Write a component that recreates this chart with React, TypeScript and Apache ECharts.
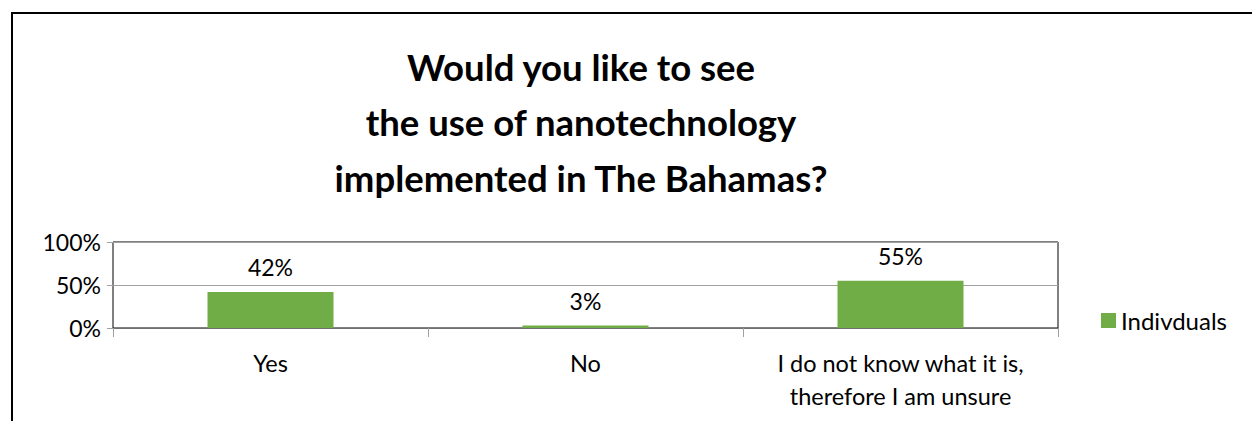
import React, { useEffect, useRef } from "react";
import * as echarts from "echarts";

const categories = ["Yes", "No", "I do not know what it is,\ntherefore I am unsure"];
const seriesName = "Indivduals";
const values = [42, 3, 55];
const titleLines = ["Would you like to see", "the use of nanotechnology", "implemented in The Bahamas?"];

const FONT = "Lato, 'Open Sans', sans-serif";

export default function App() {
  const ref = useRef<HTMLDivElement>(null);
  useEffect(() => {
    if (!ref.current) return;
    const chart = echarts.init(ref.current, null, { renderer: "svg" });
    chart.setOption({
      animation: false,
      backgroundColor: "#ffffff",
      textStyle: { fontFamily: FONT },
      graphic: [
        {
          type: "rect",
          shape: { x: 12, y: 13, width: 1400, height: 600 },
          style: { fill: "none", stroke: "#000000", lineWidth: 2 },
          silent: true,
        },
        {
          type: "text",
          x: 581,
          y: 39,
          style: {
            text: titleLines.join("\n"),
            font: `bold 36.5px ${FONT}`,
            fill: "#000000",
            textAlign: "center",
            textVerticalAlign: "top",
            lineHeight: 55.5,
          },
        },
      ],
      legend: {
        data: [seriesName],
        orient: "vertical",
        left: 1101,
        top: 306,
        padding: 0,
        itemWidth: 15,
        itemHeight: 15,
        icon: "rect",
        textStyle: { fontSize: 24, color: "#000000", fontFamily: FONT, lineHeight: 29 },
      },
      grid: {
        left: 113,
        top: 242,
        right: 194,
        bottom: 93,
        show: true,
        borderColor: "#000000",
        borderWidth: 1,
        containLabel: false,
      },
      xAxis: {
        type: "category",
        data: categories,
        axisLine: { show: true, lineStyle: { color: "#707070", width: 1 } },
        axisTick: { show: true, length: 9, lineStyle: { color: "#a0a0a0" } },
        axisLabel: {
          color: "#000000",
          fontSize: 23.5,
          fontFamily: FONT,
          lineHeight: 33,
          margin: 18,
          interval: 0,
        },
      },
      yAxis: {
        type: "value",
        min: 0,
        max: 100,
        interval: 50,
        axisLine: { show: false },
        axisTick: { show: true, length: 6, lineStyle: { color: "#a0a0a0" } },
        splitLine: { show: true, lineStyle: { color: "#a0a0a0", width: 1 } },
        axisLabel: {
          color: "#000000",
          fontSize: 23,
          fontFamily: FONT,
          formatter: "{value}%",
          margin: 12,
        },
      },
      series: [
        {
          name: seriesName,
          type: "bar",
          data: values,
          barWidth: "40%",
          itemStyle: { color: "#70ad47" },
          label: {
            show: true,
            position: "top",
            distance: 13,
            formatter: "{c}%",
            color: "#000000",
            fontSize: 23,
            fontFamily: FONT,
          },
        },
      ],
    });
    return () => chart.dispose();
  }, []);
  return (
    <div
      ref={ref}
      style={{ position: "fixed", left: 0, top: 0, width: 1252, height: 421 }}
    />
  );
}
